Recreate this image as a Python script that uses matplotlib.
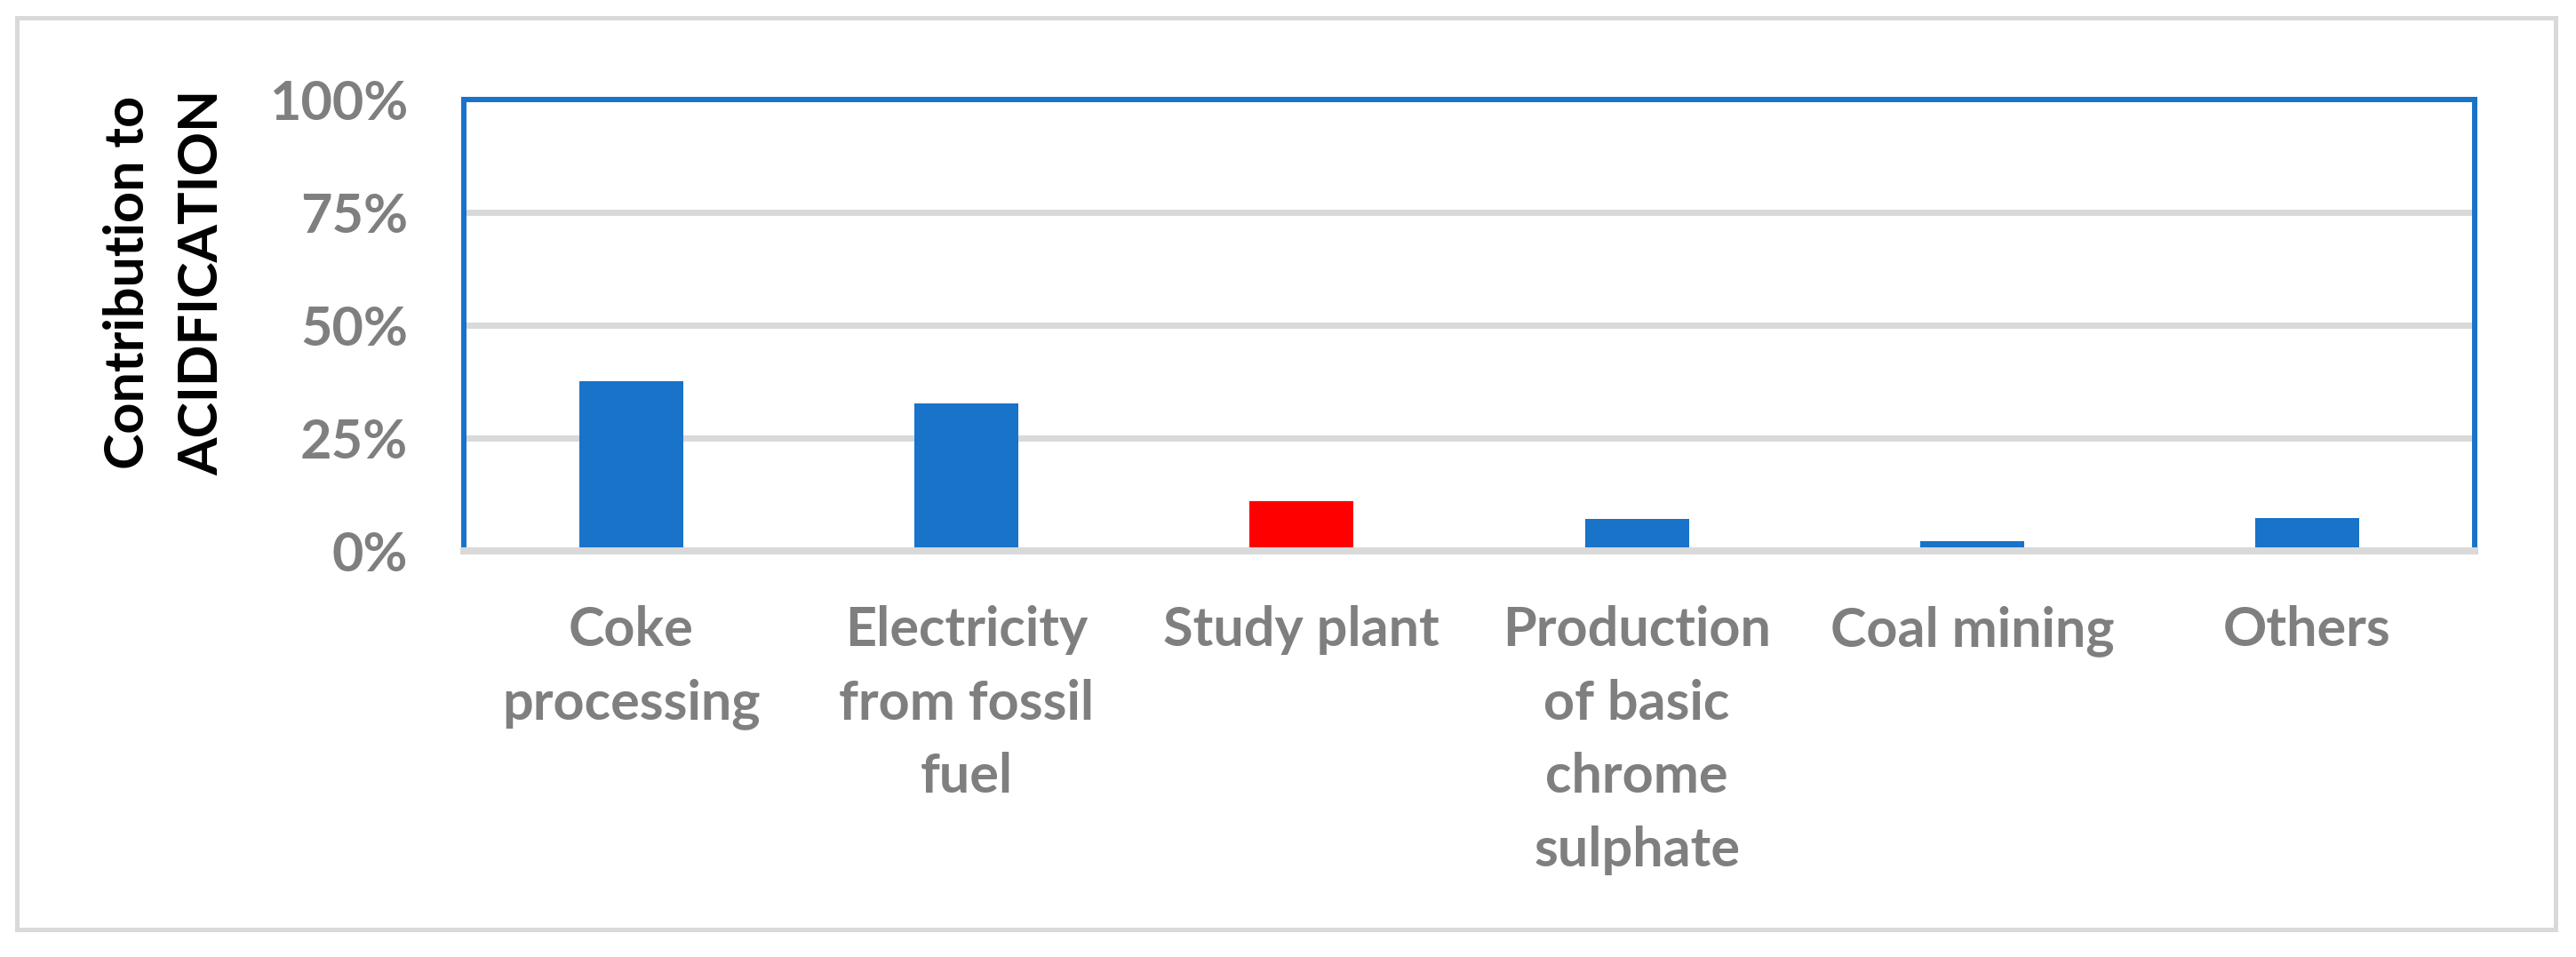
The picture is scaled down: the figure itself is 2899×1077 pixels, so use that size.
import matplotlib.pyplot as plt
from matplotlib.patches import Rectangle
from matplotlib.ticker import FuncFormatter

categories = ["Coke\nprocessing", "Electricity\nfrom fossil\nfuel", "Study plant",
              "Production\nof basic\nchrome\nsulphate", "Coal mining", "Others"]
values = [37.6, 32.6, 11.0, 7.0, 2.1, 7.2]
bar_colors = ["#1873c9", "#1873c9", "#ff0000", "#1873c9", "#1873c9", "#1873c9"]
yticks = [0, 25, 50, 75, 100]

blue = "#1873c9"
grey = "#d9d9d9"
text_grey = "#7f7f7f"

plt.rcParams['font.family'] = ['Lato', 'DejaVu Sans']
plt.rcParams['font.weight'] = 'bold'

fig = plt.figure(figsize=(28.99, 10.77), dpi=100)
ax = fig.add_axes([0.180, 0.4245, 0.7807, 0.4715])

# outer frame
fig.patches.append(Rectangle((0.0066, 0.029), 0.9855, 0.952, transform=fig.transFigure,
                             fill=False, edgecolor=grey, linewidth=3.6))

x = list(range(len(categories)))
ax.bar(x, values, width=0.31, color=bar_colors, zorder=3)

ax.set_xlim(-0.5, len(categories) - 0.5)
ax.set_ylim(0, 100)
ax.set_yticks(yticks)
ax.yaxis.set_major_formatter(FuncFormatter(lambda v, p: "%d%%" % v))
ax.set_xticks(x)
ax.set_xticklabels(categories, linespacing=1.58)

for lab in ax.get_xticklabels() + ax.get_yticklabels():
    lab.set_color(text_grey)
    lab.set_fontsize(44)
    lab.set_fontweight('bold')

ax.tick_params(axis='both', length=0)
ax.tick_params(axis='y', pad=45)
ax.tick_params(axis='x', pad=44)

for g in [25, 50, 75]:
    ax.axhline(g, color=grey, linewidth=5, zorder=1)

for s in ['top', 'left', 'right']:
    ax.spines[s].set_color(blue)
    ax.spines[s].set_linewidth(4.3)
ax.spines['bottom'].set_color(grey)
ax.spines['bottom'].set_linewidth(5.8)
ax.spines['bottom'].set_zorder(4)

fig.text(0.064, 0.705, "Contribution to\nACIDFICATION", rotation=90, ha='center', va='center',
         fontsize=44, fontweight='bold', color='black', linespacing=1.58)

fig.savefig("out.png", dpi=100)
